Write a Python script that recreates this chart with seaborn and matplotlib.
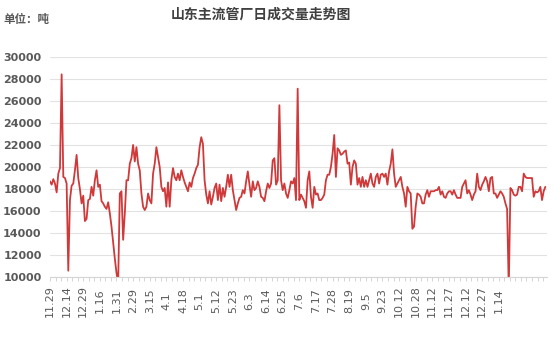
import numpy as np
import pandas as pd
import matplotlib
matplotlib.use("Agg")
import matplotlib.pyplot as plt
import seaborn as sns
from matplotlib.ticker import MultipleLocator

# ---- data ----
volume_part1 = [
    18700, 18400, 18900, 18500, 17700, 19400, 19900, 28400, 19100, 19000,
    18500, 10600, 17000, 18300, 18500, 19700, 21100, 19000, 18000, 16700,
    17400, 15100, 15300, 17000, 17100, 18200, 17400, 18800, 19700, 18200,
    18400, 16900, 16700, 16400, 16200, 16800, 15800, 14600, 13100, 11700,
    10400, 9500, 17600, 17800, 13400, 15800, 18800, 18800, 20300, 20800,
    22000, 20500, 21800, 20300, 19700, 17600, 16400, 16100, 16400, 17600,
    17000, 16700, 19400, 20300, 21800, 20900, 20000, 18200, 17800, 18100,
    16400, 18600, 16400, 18800, 19900, 19100, 18800, 19400, 18800, 19700,
    19100, 18600, 18200, 17800, 18600, 18200, 19000, 19400, 19900, 20200,
    21800,
]
volume_part2 = [
    22700, 22100, 18800, 17500, 16700, 17800, 16600, 17300, 18100, 18500,
    17000, 18400, 16900, 18100, 17300, 18200, 19300, 18200, 19300, 17900,
    17000, 16100, 16700, 17200, 17300, 17900, 17600, 18700, 19600, 18400,
    17300, 18700, 17900, 18100, 18700, 18200, 17300, 17200, 16900, 17800,
    18500, 18100, 18500, 20600, 20800, 18400, 18800, 25600, 18800, 17900,
    18500, 17600, 17200, 17900, 18700, 18500, 19000, 17000, 27100, 17000,
    17500, 17200, 16900, 16300, 18800, 19600, 17300, 16300, 18200, 17500,
    17600, 17000, 17000, 17200, 17500, 18800, 19300, 19300, 20000, 21200,
    22900, 19100, 21700, 21500, 21100, 21200, 21400, 21500, 20300, 20400,
    18400, 20000, 20600, 20300, 18400, 19000, 18200, 19100, 18200, 18800,
    18200, 18800, 19400, 18500, 18200, 19100, 19400, 18500,
]
volume_part3 = [
    19300, 19400, 19100, 19400, 18400, 19600, 20300, 21600, 19400, 18200,
    18500, 18800, 19100, 18200, 17600, 16400, 18200, 17800, 17600, 14400,
    14600, 16400, 17600, 17500, 17300, 16700, 16700, 17500, 17900, 17300,
    17800, 17800, 17800, 17900, 17900, 18200, 17500, 17800, 17300, 17200,
    17600, 17800, 17800, 17500, 17900, 17500, 17200, 17200, 17200, 18200,
    18500, 18800, 17600, 17900, 17500, 17000, 17500, 17800, 19400, 18200,
    17900, 18400, 18700, 19100, 18700, 17800, 19000, 19100, 17600, 17600,
    17200, 17500, 17800, 17600, 17300, 16700, 16200, 9000, 18100, 17900,
    17500, 17400, 17500, 18200, 18200, 17800, 19400, 19100, 19000, 19000,
    19000, 19000, 17300, 17800, 17700, 17800, 18200, 17000, 17800, 18200,
]
volume = volume_part1 + volume_part2 + volume_part3

tick_labels = ["11.29", "12.14", "12.29", "1.16", "1.31", "2.29", "3.15",
               "4.1", "4.18", "5.1", "5.12", "5.23", "6.3", "6.14", "6.25",
               "7.6", "7.17", "7.28", "8.19", "9.5", "9.23", "10.12",
               "10.28", "11.12", "11.27", "12.12", "12.27", "1.14"]
label_step = 10
y_ticks = list(range(10000, 30001, 2000))

title = "山东主流管厂日成交量走势图"
unit_text = "单位：吨"

# ---- style ----
sns.set_theme(style="white")
plt.rcParams["font.family"] = ["DejaVu Sans", "Noto Sans CJK SC"]

fig = plt.figure(figsize=(5.54, 3.6), dpi=100)
ax = fig.add_axes([50 / 554, 1 - 277.3 / 360, 497 / 554, 220.6 / 360])

df = pd.DataFrame({"idx": np.arange(len(volume)), "volume": volume})
sns.lineplot(data=df, x="idx", y="volume", color="#d0393a", linewidth=1.3, ax=ax)

ax.set_ylim(10000, 30000)
ax.set_xlim(0, len(volume))
ax.set_yticks(y_ticks)
ax.set_yticklabels([str(v) for v in y_ticks], fontsize=8, fontweight="bold",
                   color="#595959")
ax.yaxis.grid(True, color="#e2e2e2", linewidth=0.8)
ax.set_axisbelow(True)

ax.set_xticks([i * label_step for i in range(len(tick_labels))])
ax.set_xticklabels(tick_labels, rotation=90, va="center", fontsize=8,
                   color="#595959")
ax.xaxis.set_minor_locator(MultipleLocator(label_step / 3))
ax.tick_params(axis="x", which="major", length=3, width=0.6, color="#cfcfcf",
               pad=14, bottom=True)
ax.tick_params(axis="x", which="minor", length=3, width=0.6, color="#cfcfcf",
               bottom=True)
ax.tick_params(axis="y", length=0, pad=6)

ax.set_xlabel("")
ax.set_ylabel("")
for s in ["left", "right", "top"]:
    ax.spines[s].set_visible(False)
ax.spines["bottom"].set_color("#d5d5d5")
ax.spines["bottom"].set_linewidth(0.8)

fig.text(0.471, 1 - 15 / 360, title, ha="center", va="center", fontsize=10,
         fontweight="bold", color="#404040")
fig.text(0.006, 1 - 20 / 360, unit_text, ha="left", va="center", fontsize=8.3,
         fontweight="bold", color="#595959")

fig.savefig("out.png", dpi=100, facecolor="white")
